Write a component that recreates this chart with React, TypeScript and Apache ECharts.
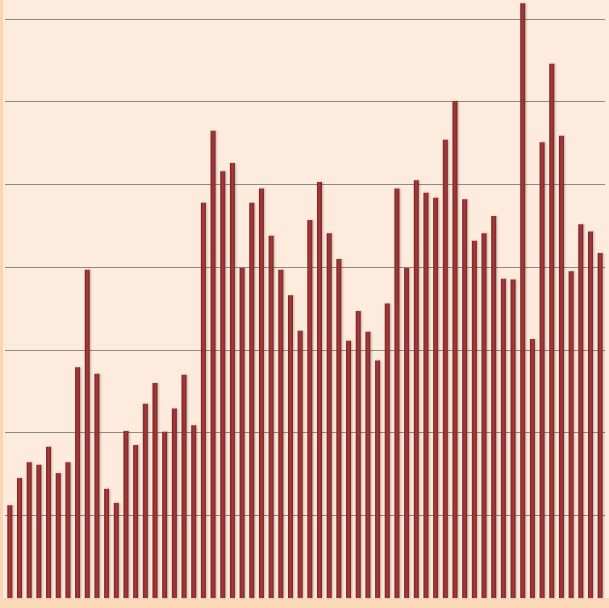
import React, { useEffect, useRef } from "react";
import * as echarts from "echarts";

const categories = [
  "1", "2", "3", "4", "5", "6", "7", "8", "9", "10",
  "11", "12", "13", "14", "15", "16", "17", "18", "19", "20",
  "21", "22", "23", "24", "25", "26", "27", "28", "29", "30",
  "31", "32", "33", "34", "35", "36", "37", "38", "39", "40",
  "41", "42", "43", "44", "45", "46", "47", "48", "49", "50",
  "51", "52", "53", "54", "55", "56", "57", "58", "59", "60",
  "61", "62",
];

const values = [
  11.2, 14.5, 16.4, 16.1, 18.3, 15.1, 16.4, 27.9, 39.7, 27.1,
  13.2, 11.5, 20.2, 18.5, 23.5, 26.0, 20.1, 22.9, 27.0, 20.9,
  47.8, 56.5, 51.6, 52.6, 39.9, 47.8, 49.5, 43.8, 39.7, 36.6,
  32.3, 45.7, 50.3, 44.1, 41.0, 31.1, 34.7, 32.2, 28.7, 35.6,
  49.5, 39.9, 50.5, 49.0, 48.4, 55.4, 60.1, 48.2, 43.2, 44.1,
  46.2, 38.6, 38.5, 71.9, 31.3, 55.1, 64.6, 55.9, 39.5, 45.2,
  44.3, 41.7,
];

const gridTicks = [10, 20, 30, 40, 50, 60, 70];

export default function App() {
  const ref = useRef<HTMLDivElement>(null);
  useEffect(() => {
    if (!ref.current) return;
    const chart = echarts.init(ref.current, undefined, { renderer: "svg" });
    chart.setOption({
      animation: false,
      backgroundColor: "#FDEBDD",
      grid: { left: 5, right: 4, top: 0, bottom: 10, containLabel: false },
      xAxis: {
        type: "category",
        data: categories,
        axisLine: { show: false },
        axisTick: { show: false },
        axisLabel: { show: false },
      },
      yAxis: {
        type: "value",
        min: 0,
        max: 72.3,
        axisLine: { show: false },
        axisTick: { show: false },
        axisLabel: { show: false },
        splitLine: { show: false },
      },
      graphic: [
        { type: "rect", shape: { x: 0, y: 0, width: 3, height: 608 }, style: { fill: "#FCD5B0" }, silent: true },
        { type: "rect", shape: { x: 0, y: 598, width: 609, height: 10 }, style: { fill: "#FCD9B8" }, silent: true },
      ],
      series: [
        {
          type: "bar",
          data: values,
          barWidth: 5,
          z: 3,
          itemStyle: {
            color: new echarts.graphic.LinearGradient(0, 0, 1, 0, [
              { offset: 0, color: "#7a2323" },
              { offset: 0.5, color: "#a73b3b" },
              { offset: 1, color: "#7a2323" },
            ]),
            shadowColor: "rgba(0,0,0,0.25)",
            shadowBlur: 2,
            shadowOffsetX: 1,
            shadowOffsetY: 0,
          },
          markLine: {
            silent: true,
            symbol: "none",
            label: { show: false },
            z: 1,
            lineStyle: { color: "#8e8a88", width: 1, type: "solid" },
            data: gridTicks.map((v) => ({ yAxis: v })),
          },
        },
      ],
    });
    return () => chart.dispose();
  }, []);
  return (
    <div
      ref={ref}
      style={{ position: "fixed", left: 0, top: 0, width: 609, height: 608 }}
    />
  );
}
